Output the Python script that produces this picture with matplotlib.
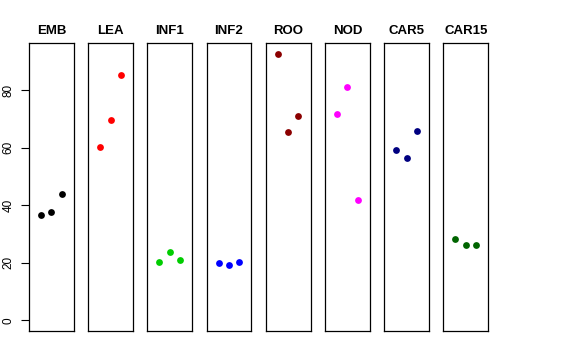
import matplotlib
matplotlib.use("Agg")
import matplotlib.pyplot as plt

plt.rcParams["font.family"] = ["Liberation Sans", "DejaVu Sans"]

# tissues and their three measurements each
tissues = ["EMB", "LEA", "INF1", "INF2", "ROO", "NOD", "CAR5", "CAR15"]
colors = ["black", "red", "#00CD00", "blue", "#8B0000", "magenta", "#000080", "#006400"]
values = {
    "EMB":   [36.5, 37.7, 43.7],
    "LEA":   [60.1, 69.7, 85.2],
    "INF1":  [20.2, 23.6, 20.8],
    "INF2":  [19.9, 19.2, 20.1],
    "ROO":   [92.5, 65.4, 70.9],
    "NOD":   [71.6, 80.9, 41.7],
    "CAR5":  [59.3, 56.4, 65.6],
    "CAR15": [28.3, 26.2, 26.0],
}
reps = [1, 2, 3]
yticks = [0, 20, 40, 60, 80]

W, H = 576, 360
fig = plt.figure(figsize=(W / 100, H / 100), dpi=100)

left0, pitch, pw = 29.0, 59.2, 44.7
top, bottom = 43.3, 331.0
ymax = max(max(v) for v in values.values())
pad = 0.04 * ymax

for i, (name, col) in enumerate(zip(tissues, colors)):
    x0 = left0 + i * pitch
    ax = fig.add_axes([x0 / W, 1 - bottom / H, pw / W, (bottom - top) / H])
    ax.scatter(reps, values[name], s=24, color=col, zorder=3, linewidths=0)
    ax.set_xlim(0 - 0.16, 4 + 0.16)
    ax.set_ylim(0 - pad, ymax + pad)
    ax.set_xticks([])
    for sp in ax.spines.values():
        sp.set_linewidth(0.9)
        sp.set_color("black")
    ax.set_title(name, fontsize=9.5, fontweight="bold", pad=7)
    if i == 0:
        ax.set_yticks(yticks)
        ax.set_yticklabels([str(t) for t in yticks], rotation=90, va="center", fontsize=8.5)
        ax.tick_params(axis="y", length=5.5, width=0.8, pad=5)
    else:
        ax.set_yticks([])

fig.savefig("out.png", dpi=100)
